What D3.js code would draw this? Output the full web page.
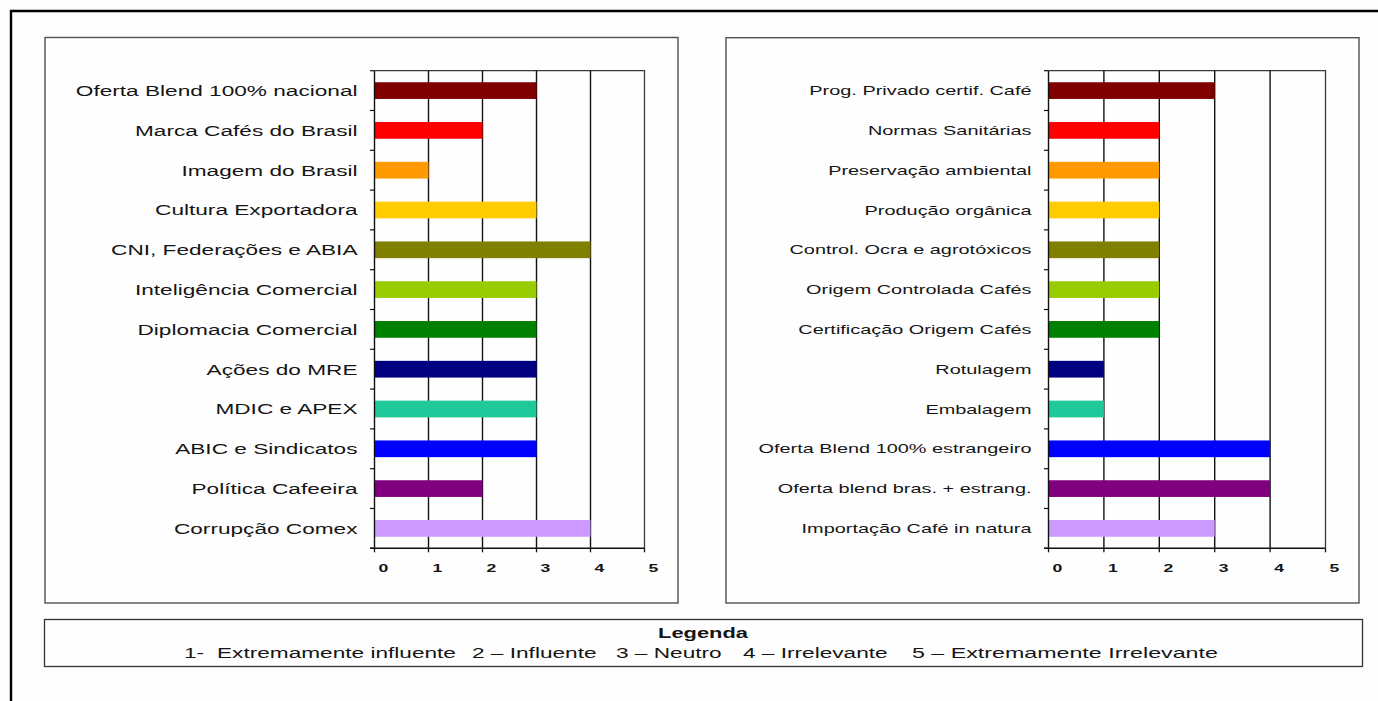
<!DOCTYPE html>
<html>
<head>
<meta charset="utf-8">
<script src="https://cdn.jsdelivr.net/npm/d3@7"></script>
<style>
  html, body { margin: 0; padding: 0; background: #fdfdfd; }
  svg { display: block; font-family: Arial, "Liberation Sans", sans-serif; }
</style>
</head>
<body>
<svg id="chart" width="1378" height="701"></svg>
<script>
// Left panel: factors linked to the Brazilian coffee sector
const leftCategories = [
  "Oferta Blend 100% nacional",
  "Marca Cafés do Brasil",
  "Imagem do Brasil",
  "Cultura Exportadora",
  "CNI, Federações e ABIA",
  "Inteligência Comercial",
  "Diplomacia Comercial",
  "Ações do MRE",
  "MDIC e APEX",
  "ABIC e Sindicatos",
  "Política Cafeeira",
  "Corrupção Comex"
];
const leftValues = [3, 2, 1, 3, 4, 3, 3, 3, 3, 3, 2, 4];

// Right panel: certification / supply factors
const rightCategories = [
  "Prog. Privado certif. Café",
  "Normas Sanitárias",
  "Preservação ambiental",
  "Produção orgânica",
  "Control. Ocra e agrotóxicos",
  "Origem Controlada Cafés",
  "Certificação Origem Cafés",
  "Rotulagem",
  "Embalagem",
  "Oferta Blend 100% estrangeiro",
  "Oferta blend bras. + estrang.",
  "Importação Café in natura"
];
const rightValues = [3, 2, 2, 2, 2, 2, 2, 1, 1, 4, 4, 3];

// One colour per row, same order in both panels
const barColors = [
  "#800000", "#ff0000", "#ff9900", "#ffcc00", "#808000", "#99cc00",
  "#008000", "#000080", "#1fc99a", "#0000ff", "#800080", "#cc99ff"
];

const xTicks = [0, 1, 2, 3, 4, 5];

const legendTitle = "Legenda";
const legendItems = [
  "1-",
  "Extremamente influente",
  "2 – Influente",
  "3 – Neutro",
  "4 – Irrelevante",
  "5 – Extremamente Irrelevante"
];

// ---- drawing ----
const svg = d3.select("#chart");
const SX = 1.53;            // horizontal stretch applied to all text
const ink = "#151515";

// outer frame (top and left edges only are visible)
svg.append("path")
  .attr("d", "M11,701 L11,11 L1378,11")
  .attr("fill", "none").attr("stroke", "#000").attr("stroke-width", 2.4);

function stretchedText(parent, x, y, str, opts) {
  const g = parent.append("g").attr("transform", `translate(${x},${y}) scale(${opts.sx || SX},1)`);
  const t = g.append("text")
    .attr("x", 0).attr("y", 0)
    .attr("text-anchor", opts.anchor || "start")
    .attr("font-size", opts.size)
    .attr("font-weight", opts.weight || "normal")
    .attr("fill", ink)
    .text(str);
  return t;
}

function drawPanel(cfg) {
  const g = svg.append("g");

  // panel frame
  g.append("rect")
    .attr("x", cfg.box[0]).attr("y", cfg.box[1])
    .attr("width", cfg.box[2] - cfg.box[0]).attr("height", cfg.box[3] - cfg.box[1])
    .attr("fill", "#fefefe").attr("stroke", "#505050").attr("stroke-width", 1.4);

  const x = d3.scaleLinear().domain([0, 5]).range([cfg.x0, cfg.x1]);
  const pad = 0.58;
  const y = d3.scaleBand().domain(cfg.categories)
    .range([cfg.top, cfg.bottom]).paddingInner(pad).paddingOuter(pad / 2);
  const step = y.step();

  // plot-area outline (top and right)
  g.append("path")
    .attr("d", `M${x(0)},${cfg.top} L${x(5)},${cfg.top} L${x(5)},${cfg.bottom}`)
    .attr("fill", "none").attr("stroke", "#3a3a3a").attr("stroke-width", 1.3);

  // vertical gridlines
  g.selectAll("line.grid").data(xTicks.filter(d => d > 0 && d < 5)).join("line")
    .attr("class", "grid")
    .attr("x1", d => x(d)).attr("x2", d => x(d))
    .attr("y1", cfg.top).attr("y2", cfg.bottom)
    .attr("stroke", "#111").attr("stroke-width", 1.4);

  // bars
  g.selectAll("rect.bar").data(cfg.values).join("rect")
    .attr("class", "bar")
    .attr("x", x(0))
    .attr("y", (d, i) => y(cfg.categories[i]))
    .attr("width", d => x(d) - x(0))
    .attr("height", y.bandwidth())
    .attr("fill", (d, i) => barColors[i]);

  // y axis line and category boundary ticks
  g.append("line")
    .attr("x1", x(0)).attr("x2", x(0)).attr("y1", cfg.top).attr("y2", cfg.bottom)
    .attr("stroke", "#111").attr("stroke-width", 1.4);
  const bounds = d3.range(cfg.categories.length + 1).map(i => cfg.top + i * step);
  g.selectAll("line.ytick").data(bounds).join("line")
    .attr("class", "ytick")
    .attr("x1", x(0) - 4.5).attr("x2", x(0))
    .attr("y1", d => d).attr("y2", d => d)
    .attr("stroke", "#111").attr("stroke-width", 1.2);

  // x axis line and ticks
  g.append("line")
    .attr("x1", x(0) - 4.5).attr("x2", x(5)).attr("y1", cfg.bottom).attr("y2", cfg.bottom)
    .attr("stroke", "#111").attr("stroke-width", 1.4);
  g.selectAll("line.xtick").data(xTicks).join("line")
    .attr("class", "xtick")
    .attr("x1", d => x(d)).attr("x2", d => x(d))
    .attr("y1", cfg.bottom).attr("y2", cfg.bottom + 4)
    .attr("stroke", "#111").attr("stroke-width", 1.3);

  xTicks.forEach(d => {
    stretchedText(g, x(d) + 9, cfg.bottom + 23.5, String(d), { anchor: "middle", size: 11.5, weight: "bold" });
  });

  // category labels
  cfg.categories.forEach(c => {
    stretchedText(g, x(0) - 17, y(c) + y.bandwidth() / 2 + cfg.labelSize * 0.36, c,
      { anchor: "end", size: cfg.labelSize });
  });
}

drawPanel({
  box: [45, 37.5, 678, 603],
  x0: 374.5, x1: 644.5, top: 70.7, bottom: 548.3,
  categories: leftCategories, values: leftValues, labelSize: 14.8
});

drawPanel({
  box: [726, 37.7, 1359, 603],
  x0: 1048.5, x1: 1325.5, top: 70.7, bottom: 548.3,
  categories: rightCategories, values: rightValues, labelSize: 13
});

// legend box
const lg = svg.append("g");
lg.append("rect")
  .attr("x", 44.5).attr("y", 619.5).attr("width", 1318).attr("height", 47)
  .attr("fill", "#fefefe").attr("stroke", "#333").attr("stroke-width", 1.3);
stretchedText(lg, 703, 638, legendTitle, { anchor: "middle", size: 14.3, weight: "bold" });
const legendX = [184, 217, 472, 616, 743, 912];
legendItems.forEach((t, i) => {
  stretchedText(lg, legendX[i], 657.5, t,
    { anchor: "start", size: 14.8, sx: i === legendItems.length - 1 ? 1.57 : SX });
});
</script>
</body>
</html>
